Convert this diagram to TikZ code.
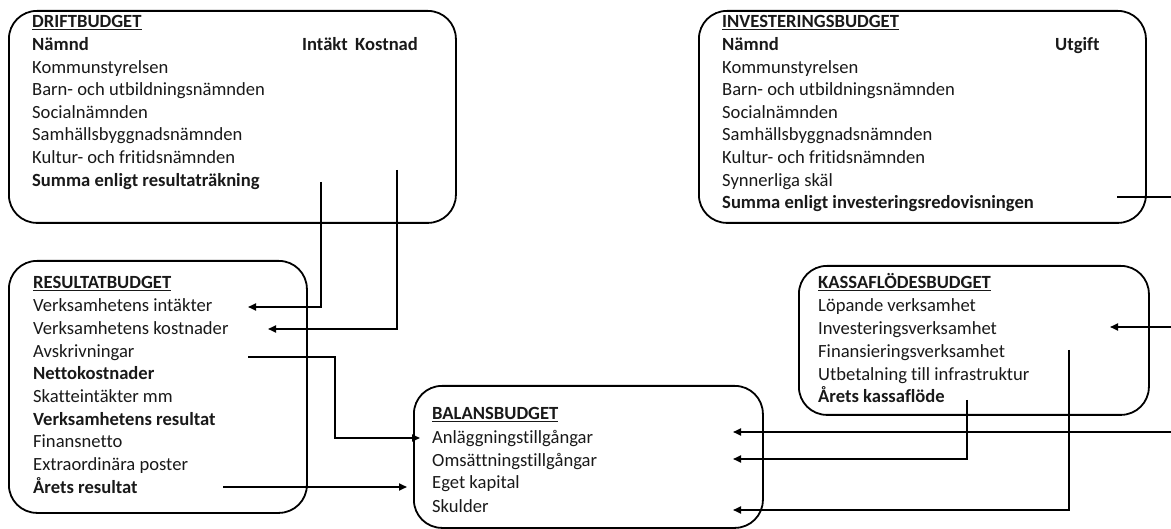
\documentclass[tikz,border=0pt]{standalone}
\usepackage{fontspec}
\setmainfont[Ligatures=NoCommon]{Carlito}
\usetikzlibrary{arrows.meta}
\begin{document}
\begin{tikzpicture}[x=1pt,y=-1pt,
  bx/.style={draw=black,line width=1.8pt,rounded corners=28pt,anchor=north west,inner sep=0pt},
  txt/.style={anchor=base west,inner sep=0pt,font=\fontsize{18.6}{22.6}\selectfont,text=black!90},
  conn/.style={draw=black,line width=1.8pt},
  arr/.style={conn,-{Triangle[length=8pt,width=7pt]}}]
\useasboundingbox (0,0) rectangle (1171,529);
% boxes
\node[bx,minimum width=447pt,minimum height=212pt] (drift) at (8,10) {};
\node[bx,minimum width=447pt,minimum height=212pt] (inv) at (698,10) {};
\node[bx,minimum width=298pt,minimum height=252pt] (res) at (8,260) {};
\node[bx,minimum width=349pt,minimum height=142pt] (bal) at (413,385) {};
\node[bx,minimum width=350pt,minimum height=149pt] (kas) at (798,265) {};
% DRIFTBUDGET
\foreach \t [count=\i from 0] in {\underline{\textbf{DRIFTBUDGET}},\textbf{Nämnd},Kommunstyrelsen,Barn- och utbildningsnämnden,Socialnämnden,Samhällsbyggnadsnämnden,Kultur- och fritidsnämnden,\textbf{Summa enligt resultaträkning}}
  \node[txt] (d\i) at (32,28+22.6*\i) {\t};
\node[txt] (dint) at (302,50.6) {\textbf{Intäkt}};
\node[txt] (dkos) at (355,50.6) {\textbf{Kostnad}};
% INVESTERINGSBUDGET
\foreach \t [count=\i from 0] in {\underline{\textbf{INVESTERINGSBUDGET}},\textbf{Nämnd},Kommunstyrelsen,Barn- och utbildningsnämnden,Socialnämnden,Samhällsbyggnadsnämnden,Kultur- och fritidsnämnden,Synnerliga skäl,\textbf{Summa enligt investeringsredovisningen}}
  \node[txt] (i\i) at (722,28+22.6*\i) {\t};
\node[txt] (iutg) at (1055,50.6) {\textbf{Utgift}};
% RESULTATBUDGET
\foreach \t [count=\i from 0] in {\underline{\textbf{RESULTATBUDGET}},Verksamhetens intäkter,Verksamhetens kostnader,Avskrivningar,\textbf{Nettokostnader},Skatteintäkter mm,\textbf{Verksamhetens resultat},Finansnetto,Extraordinära poster,\textbf{Årets resultat}}
  \node[txt] (r\i) at (33,289+22.7*\i) {\t};
% BALANSBUDGET
\foreach \t [count=\i from 0] in {\underline{\textbf{BALANSBUDGET}},Anläggningstillgångar,Omsättningstillgångar,Eget kapital,Skulder}
  \node[txt] (b\i) at (432,420+23*\i) {\t};
% KASSAFLÖDESBUDGET
\foreach \t [count=\i from 0] in {\underline{\textbf{KASSAFLÖDESBUDGET}},Löpande verksamhet,Investeringsverksamhet,Finansieringsverksamhet,Utbetalning till infrastruktur,\textbf{Årets kassaflöde}}
  \node[txt] (k\i) at (818,289+22.8*\i) {\t};
% connector points
\coordinate (intS) at (321,182);
\coordinate (intT) at (248,307);
\coordinate (kosS) at (397,170);
\coordinate (kosT) at (268,329);
\coordinate (avS) at (248,357);
\coordinate (avM) at (335,357);
\coordinate (anlL) at (420,438);
\coordinate (arS) at (223,487);
\coordinate (ekL) at (407,487);
\coordinate (invS) at (1117,197);
\coordinate (rE1) at (1171,197);
\coordinate (rE2) at (1171,327);
\coordinate (kasT) at (1110,327);
\coordinate (rE3) at (1171,432);
\coordinate (anlR) at (733,432);
\coordinate (akS) at (967,400);
\coordinate (omsR) at (733,459);
\coordinate (finS) at (1069,350);
\coordinate (skuR) at (733,510);
% connectors
\draw[arr] (intS) |- (intT);
\draw[arr] (kosS) |- (kosT);
\draw[arr] (avS) -- (avM) |- (anlL);
\draw[arr] (arS) -- (ekL);
\draw[conn] (invS) -- (rE1);
\draw[arr] (rE2) -- (kasT);
\draw[arr] (rE3) -- (anlR);
\draw[arr] (akS) |- (omsR);
\draw[arr] (finS) |- (skuR);
\end{tikzpicture}
\end{document}
